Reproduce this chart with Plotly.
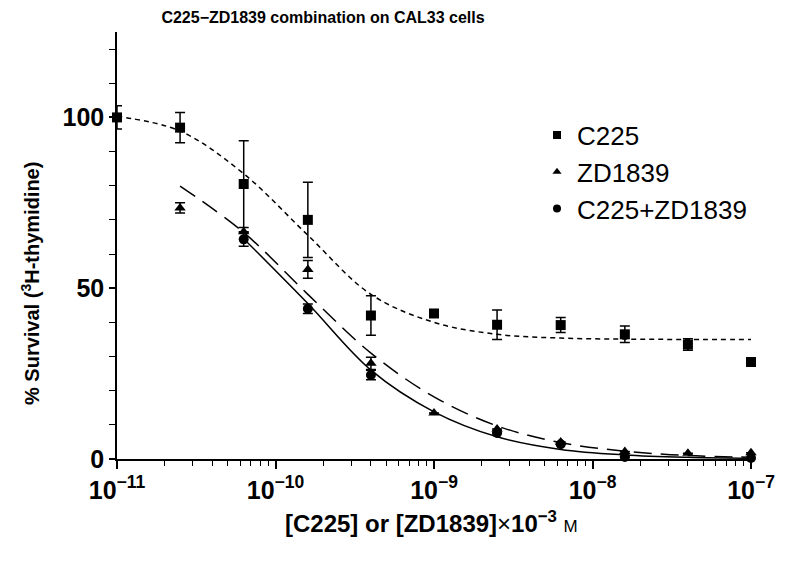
import plotly.graph_objects as go

# ---- data ----
doses = [1e-11, 2.5e-11, 6.3e-11, 1.6e-10, 4e-10, 1e-9, 2.5e-9, 6.3e-9, 1.6e-8, 4e-8, 1e-7]

c225 = [100, 97, 80.5, 70, 42, 42.6, 39.3, 39.2, 36.5, 33.5, 28.4]
c225_err = [3.4, 4.4, 12.7, 11, 5.8, None, 4.3, 2.2, 2.4, 1.7, None]

zd1839 = [None, 73.5, 66.5, 55.5, 28, 13.5, 8.8, 5.0, 2.2, 1.7, 1.8]
zd1839_err = [None, 1.5, None, 2.6, 1.8, None, None, None, None, None, None]

combo = [None, None, 64.3, 44.0, 24.6, None, 7.6, 4.3, 0.6, None, 0.3]
combo_err = [None, None, 2.0, 1.4, 1.4, None, None, None, None, None, None]

# fitted curves, read at the dose positions
c225_fit = [100.3, 96.0, 83.5, 65.5, 48.2, 40.0, 36.5, 35.4, 35.1, 35.0, 35.0]
zd1839_fit = [None, 79.9, 66.3, 48.2, 31.0, 18.2, 9.7, 4.8, 2.3, 1.0, 0.5]
combo_fit = [None, None, 64.5, 45.5, 26.0, 13.8, 6.5, 2.8, 1.2, 0.5, 0.2]

legend_names = ["C225", "ZD1839", "C225+ZD1839"]
x_tickvals = [1e-11, 1e-10, 1e-9, 1e-8, 1e-7]
x_ticktext = ["10<sup>\u221211</sup>", "10<sup>\u221210</sup>", "10<sup>\u22129</sup>",
              "10<sup>\u22128</sup>", "10<sup>\u22127</sup>"]
y_tickvals = [0, 50, 100]

BOLD = "Liberation Sans, Arial, Helvetica, sans-serif"
REG = "Liberation Sans, Arial, Helvetica, sans-serif"

# the page body adds an 8px margin; the figure is sized to sit inside the window
W, H = 781, 553
ML, MR, MT, MB = 109, 38, 24, 102
PW, PH = W - ML - MR, H - MT - MB

fig = go.Figure()

fig.add_trace(go.Scatter(x=doses, y=c225_fit, mode="lines",
                         line=dict(color="black", width=1.5, dash="5px,4px", shape="spline"),
                         showlegend=False, hoverinfo="skip"))
fig.add_trace(go.Scatter(x=doses, y=zd1839_fit, mode="lines",
                         line=dict(color="black", width=1.5, dash="18px,9px", shape="spline"),
                         showlegend=False, hoverinfo="skip"))
fig.add_trace(go.Scatter(x=doses, y=combo_fit, mode="lines",
                         line=dict(color="black", width=1.5, shape="spline"),
                         showlegend=False, hoverinfo="skip"))


def err(arr):
    return dict(type="data", array=arr, visible=True, color="black", thickness=1.5, width=5)


fig.add_trace(go.Scatter(x=doses, y=c225, mode="markers", marker=dict(symbol="square", size=10, color="black"),
                         error_y=err(c225_err), showlegend=False, cliponaxis=False))
fig.add_trace(go.Scatter(x=doses, y=zd1839, mode="markers", marker=dict(symbol="triangle-up", size=10, color="black"),
                         error_y=err(zd1839_err), showlegend=False, cliponaxis=False))
fig.add_trace(go.Scatter(x=doses, y=combo, mode="markers", marker=dict(symbol="circle", size=10, color="black"),
                         error_y=err(combo_err), showlegend=False, cliponaxis=False))

for name, sym in zip(legend_names, ["square", "triangle-up", "circle"]):
    fig.add_trace(go.Scatter(x=[None], y=[None], mode="markers", name=name, legendgroup=name,
                             marker=dict(symbol=sym, size=8, color="black")))

fig.update_layout(
    width=W, height=H,
    paper_bgcolor="white", plot_bgcolor="white",
    margin=dict(l=ML, r=MR, t=MT, b=MB, autoexpand=False),
    title=dict(text="C225\u2212ZD1839 combination on CAL33 cells", x=315 / W, xref="container",
               xanchor="center", y=1 - 9 / H, yanchor="middle",
               font=dict(family=BOLD, size=16, color="black", weight="bold")),
    legend=dict(x=(529 - ML) / PW, y=1 - (103.5 - MT) / PH, xanchor="left", yanchor="top",
                bgcolor="rgba(0,0,0,0)", font=dict(family=REG, size=26, color="black"),
                tracegroupgap=0, itemwidth=30),
    xaxis=dict(type="log", range=[-11, -7], showline=True, linecolor="black", linewidth=1.5,
               ticks="outside", ticklen=8, tickwidth=1.5, tickcolor="black",
               tickvals=x_tickvals, ticktext=x_ticktext, showgrid=False, zeroline=False,
               tickfont=dict(family=BOLD, size=25, color="black", weight="bold"),
               minor=dict(ticks="outside", ticklen=5, tickwidth=1.2, tickcolor="black", dtick="D1", showgrid=False)),
    yaxis=dict(range=[0, 125], showline=True, linecolor="black", linewidth=1.5,
               ticks="outside", ticklen=6, tickwidth=1.5, tickcolor="black",
               tickvals=y_tickvals, showgrid=False, zeroline=False,
               tickfont=dict(family=BOLD, size=25, color="black", weight="bold"),
               minor=dict(ticks="outside", ticklen=6, tickwidth=1.2, tickcolor="black", dtick=10, showgrid=False)),
    annotations=[
        dict(text="% Survival (<sup>3</sup>H-thymidine)", textangle=-90,
             x=(22 - ML) / PW, y=1 - (276 - MT) / PH, xanchor="center", yanchor="middle",
             xref="paper", yref="paper", showarrow=False,
             font=dict(family=BOLD, size=20, color="black", weight="bold")),
        dict(text="[C225] or [ZD1839]<span style='font-weight:normal'>\u00d7</span>10<sup>\u22123</sup> "
                  "<span style='font-size:17px;font-weight:normal'>M</span>",
             x=(431 - 8 - ML) / PW, y=1 - (514 - MT) / PH, xanchor="center", yanchor="middle",
             xref="paper", yref="paper", showarrow=False,
             font=dict(family=BOLD, size=24, color="black", weight="bold")),
    ],
)

fig.write_html("out.html")
